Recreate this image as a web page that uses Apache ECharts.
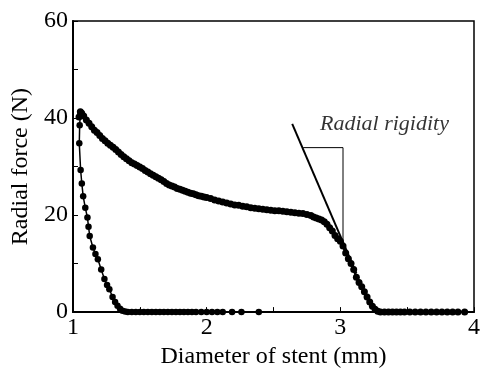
<!DOCTYPE html>
<html>
<head>
<meta charset="utf-8">
<script src="https://cdn.jsdelivr.net/npm/echarts@6/dist/echarts.min.js"></script>
<style>
  html, body { margin: 0; padding: 0; background: #fff; }
  #main { width: 483px; height: 374px; }
</style>
</head>
<body>
<div id="main"></div>
<script>
// unloading curve (upper branch)
var upperX = [1.045, 1.055, 1.065, 1.08, 1.10, 1.12, 1.14, 1.16, 1.18, 1.20, 1.22, 1.24, 1.26, 1.28, 1.30,
  1.32, 1.34, 1.36, 1.38, 1.40, 1.42, 1.44, 1.46, 1.48, 1.50, 1.52, 1.54, 1.56, 1.58, 1.60,
  1.62, 1.64, 1.66, 1.68, 1.70, 1.72, 1.74, 1.76, 1.78, 1.80, 1.82, 1.84, 1.86, 1.88, 1.90,
  1.92, 1.94, 1.96, 1.98, 2.00, 2.03, 2.06, 2.09, 2.12, 2.15, 2.18, 2.21, 2.24, 2.27, 2.30,
  2.33, 2.36, 2.39, 2.42, 2.45, 2.48, 2.51, 2.54, 2.57, 2.60, 2.63, 2.66, 2.69, 2.72, 2.75,
  2.78, 2.80, 2.82, 2.84, 2.86, 2.88, 2.90, 2.92, 2.94, 2.96, 2.98, 3.00, 3.02, 3.04, 3.06,
  3.08, 3.10, 3.12, 3.14, 3.16, 3.18, 3.20, 3.22, 3.24, 3.26, 3.28, 3.30, 3.33, 3.36, 3.39,
  3.42, 3.45, 3.48, 3.52, 3.56, 3.60, 3.64, 3.68, 3.72, 3.76, 3.80, 3.84, 3.88, 3.93];
var upperY = [40.2, 41.3, 41.0, 40.4, 39.6, 38.9, 38.2, 37.5, 37.0, 36.4, 35.8, 35.3, 34.8, 34.4, 34.0,
  33.5, 33.0, 32.5, 32.0, 31.6, 31.2, 30.8, 30.5, 30.2, 29.9, 29.6, 29.2, 28.9, 28.5, 28.2,
  27.9, 27.6, 27.3, 26.9, 26.5, 26.2, 26.0, 25.8, 25.5, 25.3, 25.1, 24.9, 24.7, 24.5, 24.4,
  24.2, 24.0, 23.9, 23.7, 23.6, 23.4, 23.1, 22.9, 22.7, 22.5, 22.3, 22.1, 22.0, 21.8, 21.7,
  21.5, 21.4, 21.3, 21.2, 21.1, 21.0, 20.9, 20.9, 20.8, 20.7, 20.6, 20.5, 20.4, 20.3, 20.1,
  19.9, 19.6, 19.4, 19.2, 19.0, 18.6, 18.1, 17.4, 16.7, 15.8, 15.1, 14.6, 13.6, 12.2, 11.0,
  10.0, 8.8, 7.2, 6.1, 5.2, 4.2, 3.1, 2.1, 1.2, 0.6, 0.2, 0, 0, 0, 0,
  0, 0, 0, 0, 0, 0, 0, 0, 0, 0, 0, 0, 0, 0];

// loading curve (lower branch)
var lowerX = [1.055, 1.050, 1.047, 1.057, 1.066, 1.076, 1.092, 1.108, 1.116, 1.125, 1.149, 1.168, 1.186,
  1.211, 1.235, 1.255, 1.272, 1.296, 1.315, 1.333, 1.352, 1.37, 1.39, 1.41, 1.44, 1.47, 1.50,
  1.53, 1.56, 1.59, 1.62, 1.65, 1.68, 1.71, 1.74, 1.77, 1.80, 1.83, 1.86, 1.89, 1.92, 1.96,
  2.00, 2.04, 2.08, 2.12, 2.19, 2.26, 2.39];
var lowerY = [41.2, 38.5, 34.8, 29.3, 26.5, 23.9, 21.5, 19.5, 17.6, 15.7, 13.3, 12.0, 10.9,
  8.8, 6.8, 5.6, 4.7, 3.1, 2.1, 1.3, 0.7, 0.3, 0.1, 0, 0, 0, 0,
  0, 0, 0, 0, 0, 0, 0, 0, 0, 0, 0, 0, 0, 0, 0,
  0, 0, 0, 0, 0, 0, 0];

// tangent line and bracket for the radial rigidity annotation
var tangentX = [2.64, 3.12];
var tangentY = [38.8, 8.0];
var bracketX = [2.722, 3.02, 3.02];
var bracketY = [33.9, 33.9, 14.5];
var noteX = 3.33;
var noteY = 38.8;
var noteText = 'Radial rigidity';

function pairs(xs, ys) {
  return xs.map(function (x, i) { return [x, ys[i]]; });
}

var chartDom = document.getElementById('main');
var myChart = echarts.init(chartDom);
var option;

var serif = '"Liberation Serif", "Times New Roman", serif';

option = {
  animation: false,
  backgroundColor: '#fff',
  grid: {
    left: 73,
    right: 1,
    top: 21,
    bottom: 61,
    show: true,
    borderColor: '#000',
    borderWidth: 1.5
  },
  xAxis: {
    type: 'value',
    min: 1,
    max: 4,
    interval: 1,
    name: 'Diameter of stent (mm)',
    nameLocation: 'middle',
    nameGap: 32,
    nameTextStyle: { color: '#000', fontFamily: serif, fontSize: 24 },
    axisLine: { lineStyle: { color: '#000', width: 2 } },
    axisTick: { inside: true, length: 5, lineStyle: { color: '#000', width: 1 } },
    minorTick: { show: true, splitNumber: 2, length: 5, lineStyle: { color: '#000', width: 1 } },
    axisLabel: { color: '#000', fontFamily: serif, fontSize: 24, margin: 4 },
    splitLine: { show: false }
  },
  yAxis: {
    type: 'value',
    min: 0,
    max: 60,
    interval: 20,
    name: 'Radial force (N)',
    nameLocation: 'middle',
    nameGap: 40,
    nameTextStyle: { color: '#000', fontFamily: serif, fontSize: 24 },
    axisLine: { show: true, lineStyle: { color: '#000', width: 2 } },
    axisTick: { show: true, inside: true, length: 5, lineStyle: { color: '#000', width: 1 } },
    minorTick: { show: true, splitNumber: 2, length: 5, lineStyle: { color: '#000', width: 1 } },
    axisLabel: { color: '#000', fontFamily: serif, fontSize: 24, margin: 5 },
    splitLine: { show: false }
  },
  series: [
    {
      name: 'unloading',
      type: 'line',
      data: pairs(upperX, upperY),
      symbol: 'circle',
      symbolSize: 7,
      itemStyle: { color: '#000' },
      lineStyle: { color: '#000', width: 2.5 },
      z: 3
    },
    {
      name: 'loading',
      type: 'line',
      data: pairs(lowerX, lowerY),
      symbol: 'circle',
      symbolSize: 6.5,
      itemStyle: { color: '#000' },
      lineStyle: { color: '#000', width: 1.5 },
      z: 3
    },
    {
      name: 'tangent',
      type: 'line',
      data: pairs(tangentX, tangentY),
      symbol: 'none',
      lineStyle: { color: '#000', width: 2 },
      z: 4
    },
    {
      name: 'bracket',
      type: 'line',
      data: pairs(bracketX, bracketY),
      symbol: 'none',
      lineStyle: { color: '#000', width: 1 },
      z: 2
    },
    {
      name: 'note',
      type: 'scatter',
      data: [[noteX, noteY]],
      symbolSize: 0,
      label: {
        show: true,
        position: 'inside',
        formatter: noteText,
        color: '#000',
        fontFamily: serif,
        fontStyle: 'italic',
        fontSize: 22
      }
    }
  ]
};

option && myChart.setOption(option);
</script>
</body>
</html>
